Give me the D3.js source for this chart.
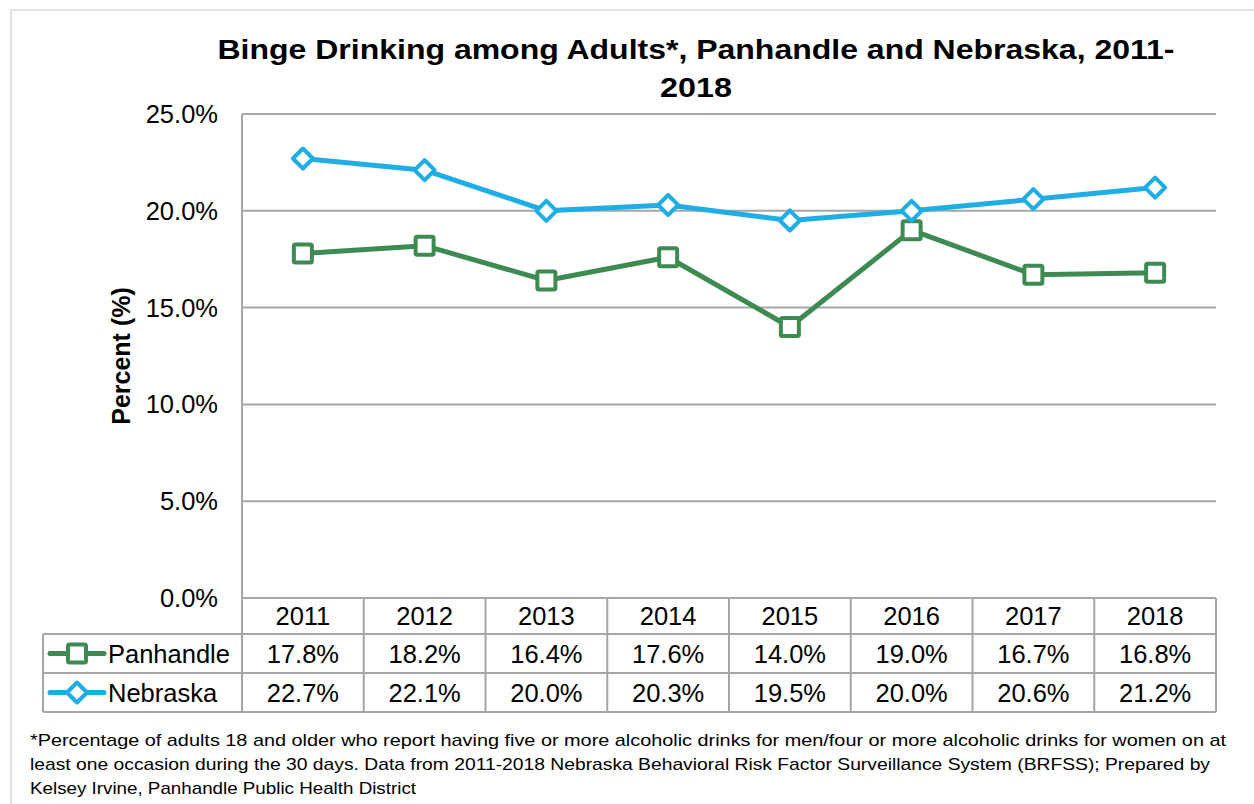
<!DOCTYPE html>
<html>
<head>
<meta charset="utf-8">
<script src="https://cdn.jsdelivr.net/npm/d3@7"></script>
<style>
  body { margin: 0; background: #fff; }
  svg { display: block; }
</style>
</head>
<body>
<div id="chart"></div>
<script>
// ── Data ────────────────────────────────────────────────────────────────────
const years = ['2011', '2012', '2013', '2014', '2015', '2016', '2017', '2018'];
const panhandle = [17.8, 18.2, 16.4, 17.6, 14.0, 19.0, 16.7, 16.8];
const nebraska  = [22.7, 22.1, 20.0, 20.3, 19.5, 20.0, 20.6, 21.2];
const yTicks = [0, 5, 10, 15, 20, 25];

const series = [
  { name: 'Panhandle', values: panhandle, color: '#3D8B53', marker: 'square' },
  { name: 'Nebraska',  values: nebraska,  color: '#1EADE4', marker: 'diamond' }
];

const footnote = [
  '*Percentage of adults 18 and older who report having five or more alcoholic drinks for men/four or more alcoholic drinks for women on at',
  'least one occasion during the 30 days. Data from 2011-2018 Nebraska Behavioral Risk Factor Surveillance System (BRFSS); Prepared by',
  'Kelsey Irvine, Panhandle Public Health District'
];
const footW = [1196, 1180, 386];

// ── Layout ──────────────────────────────────────────────────────────────────
const W = 1254, H = 804;
const plot = { l: 242, r: 1216, t: 114, b: 598 };
const tableL = 43;
const rowY = [598, 634, 673, 712];   // header / panhandle / nebraska row edges
const FONT = '"Liberation Sans", Arial, sans-serif';
const GRID = '#a6a6a6';
const FS = 25.5;   // tick + table text size

const svg = d3.select('#chart').append('svg')
  .attr('width', W).attr('height', H);

// outer chart border
svg.append('rect')
  .attr('x', 11).attr('y', 10).attr('width', W).attr('height', H)
  .attr('fill', 'none').attr('stroke', '#d9d9d9').attr('stroke-width', 1.5);

const x = d3.scaleBand().domain(years).range([plot.l, plot.r]);
const y = d3.scaleLinear().domain([0, 25]).range([plot.b, plot.t]);

// ── Title ───────────────────────────────────────────────────────────────────
const title = svg.append('text')
  .attr('text-anchor', 'middle')
  .attr('font-family', FONT).attr('font-weight', 700).attr('font-size', 28)
  .attr('fill', '#000');
title.append('tspan').attr('x', 696).attr('y', 59)
  .attr('textLength', 957).attr('lengthAdjust', 'spacingAndGlyphs')
  .text('Binge Drinking among Adults*, Panhandle and Nebraska, 2011-');
title.append('tspan').attr('x', 696).attr('y', 97)
  .attr('textLength', 72).attr('lengthAdjust', 'spacingAndGlyphs')
  .text('2018');

// ── Gridlines + y axis ──────────────────────────────────────────────────────
svg.append('g').selectAll('line').data(yTicks.filter(d => d > 0)).join('line')
  .attr('x1', plot.l).attr('x2', plot.r)
  .attr('y1', d => y(d)).attr('y2', d => y(d))
  .attr('stroke', GRID).attr('stroke-width', 2);

svg.append('line')
  .attr('x1', plot.l).attr('x2', plot.l).attr('y1', plot.t).attr('y2', rowY[3])
  .attr('stroke', GRID).attr('stroke-width', 2);

svg.append('g').selectAll('text').data(yTicks).join('text')
  .attr('x', 218).attr('y', d => y(d) + 9)
  .attr('text-anchor', 'end')
  .attr('font-family', FONT).attr('font-size', FS).attr('fill', '#000')
  .text(d => d.toFixed(1) + '%');

svg.append('text')
  .attr('transform', `translate(130, ${(plot.t + plot.b) / 2}) rotate(-90)`)
  .attr('text-anchor', 'middle')
  .attr('font-family', FONT).attr('font-weight', 700).attr('font-size', 25)
  .text('Percent (%)');

// ── Data table ──────────────────────────────────────────────────────────────
const tbl = svg.append('g');
// horizontal lines
tbl.append('line').attr('x1', plot.l).attr('x2', plot.r)
  .attr('y1', rowY[0]).attr('y2', rowY[0]).attr('stroke', GRID).attr('stroke-width', 2);
[1, 2, 3].forEach(i => {
  tbl.append('line').attr('x1', tableL).attr('x2', plot.r)
    .attr('y1', rowY[i]).attr('y2', rowY[i]).attr('stroke', GRID).attr('stroke-width', 2);
});
// vertical lines
years.forEach(yr => {
  const xr = x(yr) + x.bandwidth();
  tbl.append('line').attr('x1', xr).attr('x2', xr)
    .attr('y1', rowY[0]).attr('y2', rowY[3]).attr('stroke', GRID).attr('stroke-width', 2);
});
tbl.append('line').attr('x1', tableL).attr('x2', tableL)
  .attr('y1', rowY[1]).attr('y2', rowY[3]).attr('stroke', GRID).attr('stroke-width', 2);

// header years
tbl.selectAll('text.yr').data(years).join('text')
  .attr('class', 'yr')
  .attr('x', d => x(d) + x.bandwidth() / 2).attr('y', rowY[0] + 27)
  .attr('text-anchor', 'middle')
  .attr('font-family', FONT).attr('font-size', FS)
  .text(d => d);

series.forEach((s, si) => {
  const cy = (rowY[si + 1] + rowY[si + 2]) / 2;
  tbl.selectAll(`text.v${si}`).data(s.values).join('text')
    .attr('class', `v${si}`)
    .attr('x', (d, i) => x(years[i]) + x.bandwidth() / 2).attr('y', cy + 9)
    .attr('text-anchor', 'middle')
    .attr('font-family', FONT).attr('font-size', FS)
    .text(d => d.toFixed(1) + '%');

  // legend key
  tbl.append('line').attr('x1', 50).attr('x2', 104).attr('y1', cy).attr('y2', cy)
    .attr('stroke', s.color).attr('stroke-width', 5).attr('stroke-linecap', 'round');
  drawMarker(tbl, s, 77, cy);
  tbl.append('text').attr('x', 108).attr('y', cy + 9)
    .attr('font-family', FONT).attr('font-size', FS)
    .text(s.name);
});

// ── Lines + markers ─────────────────────────────────────────────────────────
function drawMarker(g, s, cx, cy) {
  if (s.marker === 'square') {
    g.append('rect').attr('x', cx - 9).attr('y', cy - 9)
      .attr('width', 18).attr('height', 18).attr('rx', 1.5)
      .attr('fill', '#fff').attr('stroke', s.color).attr('stroke-width', 4);
  } else {
    const r = 10;
    g.append('path')
      .attr('d', `M${cx},${cy - r}L${cx + r},${cy}L${cx},${cy + r}L${cx - r},${cy}Z`)
      .attr('fill', '#fff').attr('stroke', s.color).attr('stroke-width', 4)
      .attr('stroke-linejoin', 'round');
  }
}

const line = d3.line()
  .x((d, i) => x(years[i]) + x.bandwidth() / 2)
  .y(d => y(d));

series.forEach(s => {
  const g = svg.append('g');
  g.append('path').datum(s.values)
    .attr('d', line)
    .attr('fill', 'none').attr('stroke', s.color).attr('stroke-width', 5)
    .attr('stroke-linejoin', 'round');
  s.values.forEach((v, i) => drawMarker(g, s, x(years[i]) + x.bandwidth() / 2, y(v)));
});

// ── Footnote ────────────────────────────────────────────────────────────────
svg.append('g').selectAll('text').data(footnote).join('text')
  .attr('x', 30).attr('y', (d, i) => 746 + i * 24)
  .attr('font-family', FONT).attr('font-size', 17).attr('fill', '#000')
  .attr('textLength', (d, i) => footW[i]).attr('lengthAdjust', 'spacingAndGlyphs')
  .text(d => d);
</script>
</body>
</html>
